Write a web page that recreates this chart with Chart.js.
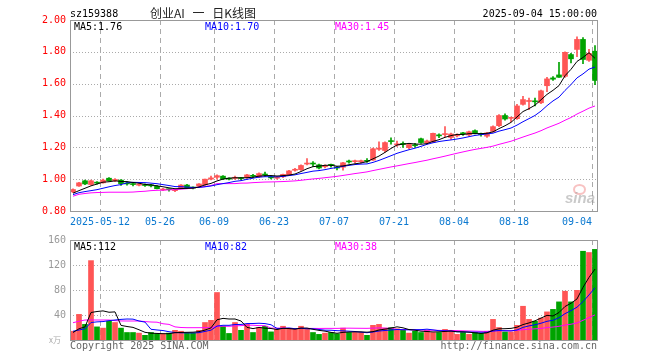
<!DOCTYPE html>
<html>
<head>
<meta charset="utf-8">
<script src="https://cdn.jsdelivr.net/npm/chart.js@4.4.1/dist/chart.umd.min.js"></script>
<style>
  body { margin: 0; background: #fff; }
  #wrap { position: relative; width: 660px; height: 360px; overflow: hidden;
          font-family: 'DejaVu Sans Mono', monospace; font-size: 10px; line-height: 12px; color: #000; }
  #wrap canvas { position: absolute; left: 0; }
  .t { position: absolute; white-space: pre; }
  .r { text-align: right; }
</style>
</head>
<body>
<div id="wrap">
  <canvas id="kline" width="660" height="235" style="top:0"></canvas>
  <canvas id="vol" width="660" height="145" style="top:215px"></canvas>

  <div class="t" style="left:70px;top:8px">sz159388</div>
  <div class="t" style="left:150px;top:5px;font-family:'Noto Sans CJK SC';font-size:12px;line-height:15px;word-spacing:5px;color:#222">创业AI 一 日K线图</div>
  <div class="t r" style="right:63px;top:8px">2025-09-04 15:00:00</div>

  <div class="t" style="left:74px;top:21px">MA5:1.76</div>
  <div class="t" style="left:205px;top:21px;color:#0000ff">MA10:1.70</div>
  <div class="t" style="left:335px;top:21px;color:#ff00ff">MA30:1.45</div>

  <div class="t" style="left:74px;top:241px">MA5:112</div>
  <div class="t" style="left:205px;top:241px;color:#0000ff">MA10:82</div>
  <div class="t" style="left:335px;top:241px;color:#ff00ff">MA30:38</div>

  <div class="t" style="left:49px;top:334px;font-family:'Noto Sans CJK SC';font-size:8px;color:#aaa">x万</div>
  <div class="t" style="left:70px;top:340px;color:#666">Copyright 2025 SINA.COM</div>
  <div class="t r" style="right:63px;top:340px;color:#666">http://finance.sina.com.cn</div>

  <div class="t" style="left:573px;top:184px;width:9px;height:7px;border:2px solid rgba(240,120,120,0.45);border-radius:50%"></div>
  <div class="t" style="left:565px;top:190px;font-family:'Liberation Sans';font-style:italic;font-weight:bold;font-size:15px;line-height:16px;color:rgba(150,150,150,0.5)">sina</div>
</div>

<script>
// trading days shown, 2025-04-30 .. 2025-09-04
const dates = [
  '2025-04-30', '2025-05-06', '2025-05-07', '2025-05-08', '2025-05-09',
  '2025-05-12', '2025-05-13', '2025-05-14', '2025-05-15', '2025-05-16',
  '2025-05-19', '2025-05-20', '2025-05-21', '2025-05-22', '2025-05-23',
  '2025-05-26', '2025-05-27', '2025-05-28', '2025-05-29', '2025-05-30',
  '2025-06-03', '2025-06-04', '2025-06-05', '2025-06-06',
  '2025-06-09', '2025-06-10', '2025-06-11', '2025-06-12', '2025-06-13',
  '2025-06-16', '2025-06-17', '2025-06-18', '2025-06-19', '2025-06-20',
  '2025-06-23', '2025-06-24', '2025-06-25', '2025-06-26', '2025-06-27',
  '2025-06-30', '2025-07-01', '2025-07-02', '2025-07-03', '2025-07-04',
  '2025-07-07', '2025-07-08', '2025-07-09', '2025-07-10', '2025-07-11',
  '2025-07-14', '2025-07-15', '2025-07-16', '2025-07-17', '2025-07-18',
  '2025-07-21', '2025-07-22', '2025-07-23', '2025-07-24', '2025-07-25',
  '2025-07-28', '2025-07-29', '2025-07-30', '2025-07-31', '2025-08-01',
  '2025-08-04', '2025-08-05', '2025-08-06', '2025-08-07', '2025-08-08',
  '2025-08-11', '2025-08-12', '2025-08-13', '2025-08-14', '2025-08-15',
  '2025-08-18', '2025-08-19', '2025-08-20', '2025-08-21', '2025-08-22',
  '2025-08-25', '2025-08-26', '2025-08-27', '2025-08-28', '2025-08-29',
  '2025-09-01', '2025-09-02', '2025-09-03', '2025-09-04'
];

const opens = [
  0.92, 0.957, 0.99, 0.966, 0.978, 0.977, 1.006, 0.99, 0.994, 0.975,
  0.97, 0.962, 0.965, 0.962, 0.955, 0.932, 0.938, 0.928, 0.945, 0.963,
  0.948, 0.956, 0.964, 1.0, 1.012, 1.019, 1.003, 1.005, 1.008, 1.01,
  1.022, 1.015, 1.03, 1.015, 1.006, 1.015, 1.027, 1.056, 1.06, 1.095,
  1.098, 1.09, 1.078, 1.09, 1.075, 1.075, 1.11, 1.11, 1.11, 1.116,
  1.12, 1.188, 1.18, 1.24, 1.215, 1.225, 1.198, 1.215, 1.254, 1.228,
  1.235, 1.278, 1.28, 1.262, 1.272, 1.288, 1.278, 1.305, 1.284, 1.27,
  1.30, 1.336, 1.40, 1.382, 1.38, 1.47, 1.488, 1.492, 1.48, 1.587,
  1.636, 1.655, 1.646, 1.783, 1.815, 1.878, 1.747, 1.804
];
const highs = [
  0.94, 0.98, 0.995, 0.995, 0.985, 1.0, 1.01, 1.003, 0.998, 0.982,
  0.975, 0.972, 0.97, 0.968, 0.96, 0.942, 0.94, 0.936, 0.966, 0.968,
  0.952, 0.972, 1.0, 1.02, 1.028, 1.022, 1.008, 1.02, 1.012, 1.03,
  1.03, 1.04, 1.045, 1.02, 1.016, 1.032, 1.055, 1.068, 1.09, 1.13,
  1.11, 1.095, 1.09, 1.095, 1.08, 1.105, 1.12, 1.12, 1.12, 1.13,
  1.195, 1.235, 1.235, 1.26, 1.24, 1.235, 1.222, 1.225, 1.258, 1.245,
  1.29, 1.285, 1.33, 1.29, 1.285, 1.295, 1.302, 1.31, 1.29, 1.295,
  1.335, 1.405, 1.41, 1.39, 1.47, 1.52, 1.51, 1.51, 1.56, 1.64,
  1.645, 1.734, 1.80, 1.79, 1.895, 1.89, 1.815, 1.84
];
const lows = [
  0.915, 0.955, 0.965, 0.962, 0.968, 0.975, 0.988, 0.985, 0.96, 0.962,
  0.958, 0.958, 0.955, 0.952, 0.938, 0.928, 0.925, 0.922, 0.94, 0.94,
  0.938, 0.95, 0.96, 0.995, 1.0, 0.998, 0.995, 0.998, 0.996, 1.005,
  1.01, 1.01, 1.018, 1.002, 1.0, 1.01, 1.025, 1.05, 1.055, 1.09,
  1.08, 1.065, 1.07, 1.075, 1.058, 1.057, 1.1, 1.1, 1.1, 1.105,
  1.118, 1.18, 1.17, 1.22, 1.205, 1.2, 1.19, 1.2, 1.225, 1.22,
  1.23, 1.26, 1.265, 1.25, 1.265, 1.275, 1.27, 1.285, 1.27, 1.262,
  1.295, 1.33, 1.37, 1.36, 1.375, 1.465, 1.436, 1.46, 1.475, 1.55,
  1.62, 1.64, 1.64, 1.73, 1.77, 1.726, 1.74, 1.594
];
const closes = [
  0.935, 0.977, 0.97, 0.99, 0.975, 0.994, 0.99, 0.998, 0.972, 0.97,
  0.966, 0.967, 0.96, 0.958, 0.94, 0.936, 0.934, 0.932, 0.963, 0.945,
  0.944, 0.97, 1.0, 1.008, 1.022, 1.002, 1.0, 1.012, 1.004, 1.027,
  1.018, 1.035, 1.026, 1.008, 1.012, 1.03, 1.052, 1.06, 1.086, 1.1,
  1.095, 1.07, 1.085, 1.087, 1.07, 1.103, 1.108, 1.114, 1.114, 1.112,
  1.191, 1.195, 1.23, 1.236, 1.222, 1.218, 1.218, 1.21, 1.23, 1.24,
  1.288, 1.272, 1.284, 1.284, 1.278, 1.285, 1.298, 1.288, 1.28, 1.29,
  1.33, 1.40, 1.378, 1.386, 1.46, 1.50, 1.492, 1.486, 1.555, 1.63,
  1.628, 1.64, 1.797, 1.756, 1.878, 1.752, 1.79, 1.62
];
// volume, 10k shares
const volumes = [
  14, 41, 25, 127, 21, 19, 30, 28, 19, 12,
  12, 11, 7.5, 12, 10, 10, 11, 15.5, 14, 11,
  11, 15.5, 28, 31.5, 76, 22, 10.5, 28, 15.5, 25,
  12, 20, 22, 13, 17, 22, 17.5, 17, 22, 17,
  12, 9, 11, 12, 10, 19, 12, 12, 12, 7.5,
  23.5, 25, 19, 20, 18, 15.5, 11, 14, 12, 15.5,
  12, 12, 17, 15.5, 9, 12, 9, 12, 10.5, 14,
  33, 20, 13, 13, 23.5, 54, 33, 30, 35, 45,
  49, 61, 78, 61, 79.5, 142, 140, 145
];

const ma5PriceLead = [0.912, 0.928, 0.943, 0.958];
const ma10PriceLead = [0.903, 0.915, 0.922, 0.928, 0.934, 0.943, 0.952, 0.96, 0.966];
const ma30PriceLead = [
  0.893, 0.905, 0.91, 0.914, 0.916, 0.917, 0.918, 0.918, 0.918, 0.918,
  0.919, 0.922, 0.924, 0.928, 0.93, 0.931, 0.933, 0.934, 0.937, 0.94,
  0.945, 0.95, 0.953, 0.96, 0.972, 0.972, 0.972, 0.972, 0.975
];
const ma5VolLead = [12, 18, 21, 44];
const ma10VolLead = [14, 16, 18, 28, 29, 29.5, 31, 32, 33];
const ma30VolLead = [
  27.7, 30, 32, 32, 32, 32, 32, 31, 30.5, 30.4,
  30.4, 30.4, 29.5, 28.8, 28.5, 26, 25, 21, 20, 19.7,
  19.7, 19.7, 19.7, 19.7, 22, 22, 22, 22.5, 23
];

const xTickLabels = ['2025-05-12', '05-26', '06-09', '06-23', '07-07', '07-21', '08-04', '08-18', '09-04'];
const priceTicks = [0.8, 1.0, 1.2, 1.4, 1.6, 1.8, 2.0];
const volTicks = [0, 40, 80, 120, 160];

const UP = '#ff5555', DOWN = '#00a300';
const MONO = 'DejaVu Sans Mono';
const colors = closes.map((c, i) => (c >= opens[i] ? UP : DOWN));
const tickIdx = xTickLabels.map(l => dates.findIndex(d => d.endsWith(l)));

function movingAvg(values, n, lead) {
  return values.map((_, i) => {
    if (i < n - 1) return lead[i];
    const win = values.slice(i - n + 1, i + 1);
    return win.reduce((a, b) => a + b, 0) / n;
  });
}

function maLine(values, n, lead, color) {
  return {
    type: 'line', data: movingAvg(values, n, lead), borderColor: color, borderWidth: 1,
    pointRadius: 0, tension: 0, order: 1
  };
}

// dotted / dashed grid, frame and the blue date labels
const frame = {
  id: 'frame',
  beforeDatasetsDraw(chart) {
    const { ctx, chartArea: a, scales: { x, y } } = chart;
    ctx.save();
    ctx.lineWidth = 1;
    ctx.strokeStyle = '#aaa';
    ctx.setLineDash([1, 2]);
    y.ticks.forEach(t => {
      const py = Math.round(y.getPixelForValue(t.value)) + 0.5;
      if (py < a.top + 2 || py > a.bottom - 2) return;
      ctx.beginPath(); ctx.moveTo(a.left, py); ctx.lineTo(a.right, py); ctx.stroke();
    });
    const half = (x.getPixelForValue(1) - x.getPixelForValue(0)) / 2;
    ctx.setLineDash([5, 4]);
    tickIdx.forEach(i => {
      const px = Math.round(x.getPixelForValue(i) - half) + 0.5;
      ctx.beginPath(); ctx.moveTo(px, a.top); ctx.lineTo(px, a.bottom); ctx.stroke();
    });
    ctx.restore();
  },
  afterDatasetsDraw(chart, args, opts) {
    const { ctx, chartArea: a, scales: { x } } = chart;
    ctx.save();
    ctx.strokeStyle = '#999';
    ctx.lineWidth = 1;
    ctx.strokeRect(Math.round(a.left) + 0.5, Math.round(a.top) + 0.5,
      Math.round(a.right) - Math.round(a.left) - 1, Math.round(a.bottom) - Math.round(a.top));
    if (opts.labels) {
      const half = (x.getPixelForValue(1) - x.getPixelForValue(0)) / 2;
      ctx.font = '10px ' + MONO;
      ctx.fillStyle = '#0a78d0';
      ctx.textBaseline = 'middle';
      tickIdx.forEach((i, k) => {
        const px = Math.round(x.getPixelForValue(i) - half);
        ctx.textAlign = k === tickIdx.length - 1 ? 'right' : 'center';
        ctx.fillText(xTickLabels[k], px, a.bottom + 11);
      });
    }
    ctx.restore();
  }
};

function yAxis(ticks, color, fmt) {
  return {
    min: ticks[0], max: ticks[ticks.length - 1],
    afterFit: s => { s.width = 70; },
    afterBuildTicks: s => { s.ticks = ticks.map(v => ({ value: v })); },
    grid: { display: false, drawTicks: false },
    border: { display: false },
    ticks: { color, padding: 4, font: { family: MONO, size: 10 }, callback: fmt }
  };
}

const common = {
  responsive: false,
  animation: false,
  events: [],
  plugins: { legend: { display: false }, tooltip: { enabled: false } }
};

new Chart(document.getElementById('kline'), {
  type: 'bar',
  data: {
    labels: dates,
    datasets: [
      maLine(closes, 5, ma5PriceLead, '#000000'),
      maLine(closes, 10, ma10PriceLead, '#0000ff'),
      maLine(closes, 30, ma30PriceLead, '#ff00ff'),
      {
        data: closes.map((c, i) => [opens[i], c]), backgroundColor: colors,
        barThickness: 5, minBarLength: 1, grouped: false, order: 2
      },
      {
        data: closes.map((c, i) => [lows[i], highs[i]]), backgroundColor: colors,
        barThickness: 1, grouped: false, order: 3
      }
    ]
  },
  options: {
    ...common,
    layout: { padding: { left: 0, right: 62, top: 20, bottom: 24 } },
    scales: {
      x: { display: false, offset: true },
      y: yAxis(priceTicks, '#ff0000', v => Number(v).toFixed(2))
    },
    plugins: { ...common.plugins, frame: { labels: true } }
  },
  plugins: [frame]
});

new Chart(document.getElementById('vol'), {
  type: 'bar',
  data: {
    labels: dates,
    datasets: [
      maLine(volumes, 5, ma5VolLead, '#000000'),
      maLine(volumes, 10, ma10VolLead, '#0000ff'),
      maLine(volumes, 30, ma30VolLead, '#ff00ff'),
      {
        data: volumes, backgroundColor: colors,
        barThickness: 5, grouped: false, order: 2
      }
    ]
  },
  options: {
    ...common,
    layout: { padding: { left: 0, right: 62, top: 25, bottom: 20 } },
    scales: {
      x: { display: false, offset: true },
      y: yAxis(volTicks, '#999999', v => (v === 0 ? '' : String(v)))
    },
    plugins: { ...common.plugins, frame: { labels: false } }
  },
  plugins: [frame]
});
</script>
</body>
</html>
